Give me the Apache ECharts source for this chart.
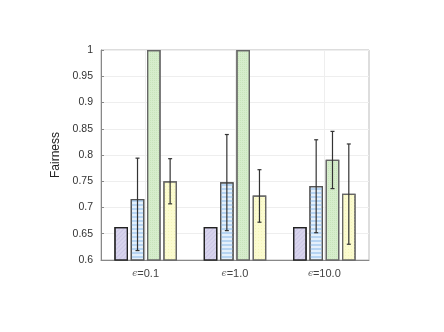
<!DOCTYPE html>
<html>
<head>
<meta charset="utf-8">
<script src="https://cdn.jsdelivr.net/npm/echarts@6/dist/echarts.min.js"></script>
<style>
  html, body { margin: 0; padding: 0; background: #fff; }
  #chart { width: 444px; height: 332px; }
</style>
</head>
<body>
<div id="chart"></div>
<script>
// categories and values
const categories = ['0.1', '1.0', '10.0'];
const yTicks = [0.6, 1.0, 0.05];

const purpleVals = [0.663, 0.663, 0.663];
const blueVals = [0.716, 0.748, 0.741];
const greenVals = [1.0, 1.0, 0.791];
const yellowVals = [0.750, 0.723, 0.726];

// error bars: [low, high] per category, null = none
const purpleErr = [null, null, null];
const blueErr = [[0.618, 0.794], [0.656, 0.839], [0.652, 0.829]];
const greenErr = [null, null, [0.736, 0.845]];
const yellowErr = [[0.707, 0.793], [0.672, 0.772], [0.630, 0.821]];

const fills = ['#d9d5ee', '#e4f0fb', '#d6edcc', '#fbfbcf'];
const borders = ['#222', '#555', '#666', '#666'];
const barVals = [purpleVals, blueVals, greenVals, yellowVals];
const errVals = [purpleErr, blueErr, greenErr, yellowErr];
const decals = [
  { symbol: 'rect', dashArrayX: [1, 0], dashArrayY: [1, 2], rotation: -Math.PI / 4, color: 'rgba(160,150,205,0.25)' },
  { symbol: 'rect', dashArrayX: [1, 0], dashArrayY: [2, 2], rotation: 0, color: 'rgba(170,205,240,0.8)' },
  { symbol: 'rect', dashArrayX: [1, 1], dashArrayY: [1, 1], rotation: 0, color: 'rgba(185,220,170,0.5)' },
  { symbol: 'rect', dashArrayX: [1, 2], dashArrayY: [1, 2], rotation: 0, color: 'rgba(240,240,170,0.6)' }
];

const BAR_GAP = 0.2;
const CAT_GAP = 0.3;

const chart = echarts.init(document.getElementById('chart'));

const series = [];
barVals.forEach((vals, i) => {
  series.push({
    name: 's' + i,
    type: 'bar',
    data: vals,
    barGap: BAR_GAP * 100 + '%',
    barCategoryGap: CAT_GAP * 100 + '%',
    itemStyle: { color: fills[i], borderColor: borders[i], borderWidth: 1.2, decal: decals[i] },
    silent: true
  });
});

// error bars drawn with a custom series on top
const errData = [];
errVals.forEach((arr, i) => {
  arr.forEach((e, c) => {
    if (e) errData.push([c, e[0], e[1], i]);
  });
});

series.push({
  type: 'custom',
  silent: true,
  z: 10,
  data: errData,
  encode: { x: 0, y: [1, 2] },
  renderItem: (params, api) => {
    const c = api.value(0);
    const idx = api.value(3);
    const lo = api.coord([c, api.value(1)]);
    const hi = api.coord([c, api.value(2)]);
    const band = api.size([1, 0])[0];
    const n = barVals.length;
    const usable = band * (1 - CAT_GAP);
    const w = usable / (n + (n - 1) * BAR_GAP);
    const x = lo[0] - usable / 2 + idx * w * (1 + BAR_GAP) + w / 2;
    const cap = 2;
    const style = { stroke: '#333', lineWidth: 1.2 };
    return {
      type: 'group',
      children: [
        { type: 'line', shape: { x1: x, y1: lo[1], x2: x, y2: hi[1] }, style },
        { type: 'line', shape: { x1: x - cap, y1: lo[1], x2: x + cap, y2: lo[1] }, style },
        { type: 'line', shape: { x1: x - cap, y1: hi[1], x2: x + cap, y2: hi[1] }, style }
      ]
    };
  }
});

const option = {
  animation: false,
  backgroundColor: '#fff',
  grid: {
    left: 101, right: 75, top: 50, bottom: 72,
    show: true, borderColor: '#bbb', borderWidth: 1, backgroundColor: 'transparent'
  },
  xAxis: {
    type: 'category',
    data: categories,
    axisLine: { lineStyle: { color: '#888' } },
    axisTick: { show: false },
    splitLine: { show: true, alignWithLabel: true, lineStyle: { color: '#eee' } },
    axisLabel: {
      margin: 8,
      fontFamily: 'Liberation Sans',
      fontSize: 11,
      color: '#444',
      formatter: v => '{e|ϵ}=' + v,
      rich: { e: { fontStyle: 'italic', fontSize: 9, color: '#666', fontFamily: 'DejaVu Serif' } }
    }
  },
  yAxis: {
    type: 'value',
    min: yTicks[0],
    max: yTicks[1],
    interval: yTicks[2],
    name: 'Fairness',
    nameLocation: 'middle',
    nameGap: 26,
    nameTextStyle: { fontFamily: 'Liberation Sans', fontSize: 12, color: '#222' },
    axisLine: { show: true, lineStyle: { color: '#888' } },
    axisTick: { show: true, inside: true, length: 3, lineStyle: { color: '#888' } },
    splitLine: { lineStyle: { color: '#eee' } },
    axisLabel: {
      fontFamily: 'Liberation Sans',
      fontSize: 10.5,
      color: '#333',
      margin: 8,
      formatter: v => String(+v.toFixed(2))
    }
  },
  series
};

chart.setOption(option);
</script>
</body>
</html>
